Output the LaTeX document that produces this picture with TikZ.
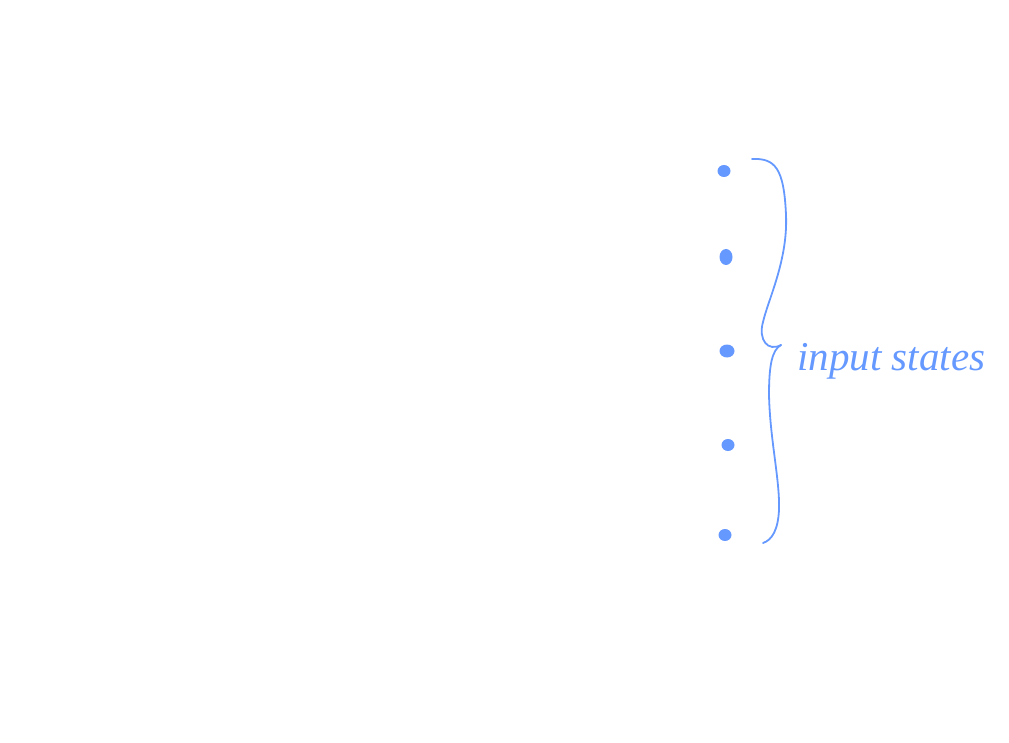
\documentclass[tikz,border=0pt]{standalone}
\usepackage{fontspec}
\usetikzlibrary{shapes.geometric}
\newfontfamily\handfont{Liberation Serif}
\definecolor{ink}{HTML}{6699FF}
\begin{document}
\begin{tikzpicture}[x=1pt,y=-1pt,
  statedot/.style={ellipse,fill=ink,inner sep=0pt,minimum width=13pt,minimum height=12pt},
  bracepath/.style={draw=ink,line width=1.8pt,line cap=round},
  lbl/.style={text=ink,font=\handfont\itshape\fontsize{41}{41}\selectfont,inner sep=0pt,anchor=base west}]
\useasboundingbox (0,0) rectangle (1009,743);
\node[statedot] (s1) at (724,171) {};
\node[statedot,minimum width=13pt,minimum height=16pt] (s2) at (726,257) {};
\node[statedot,minimum width=15pt,minimum height=13pt] (s3) at (727,351) {};
\node[statedot] (s4) at (728,445) {};
\node[statedot] (s5) at (725,535) {};
\coordinate (btop) at (752,159);
\coordinate (btip) at (781,345);
\coordinate (bbot) at (763,543);
\path[bracepath] (btop) .. controls (775,158) and (784,168) .. (786,215)
  .. controls (788,260) and (768,300) .. (763,322)
  .. controls (758,340) and (768,352) .. (781,345);
\path[bracepath] (btip) .. controls (772,350) and (769,365) .. (769,395)
  .. controls (770,440) and (780,480) .. (779,510)
  .. controls (778,530) and (772,540) .. (bbot);
\node[lbl] (label) at (797,370) {input states};
\end{tikzpicture}
\end{document}
